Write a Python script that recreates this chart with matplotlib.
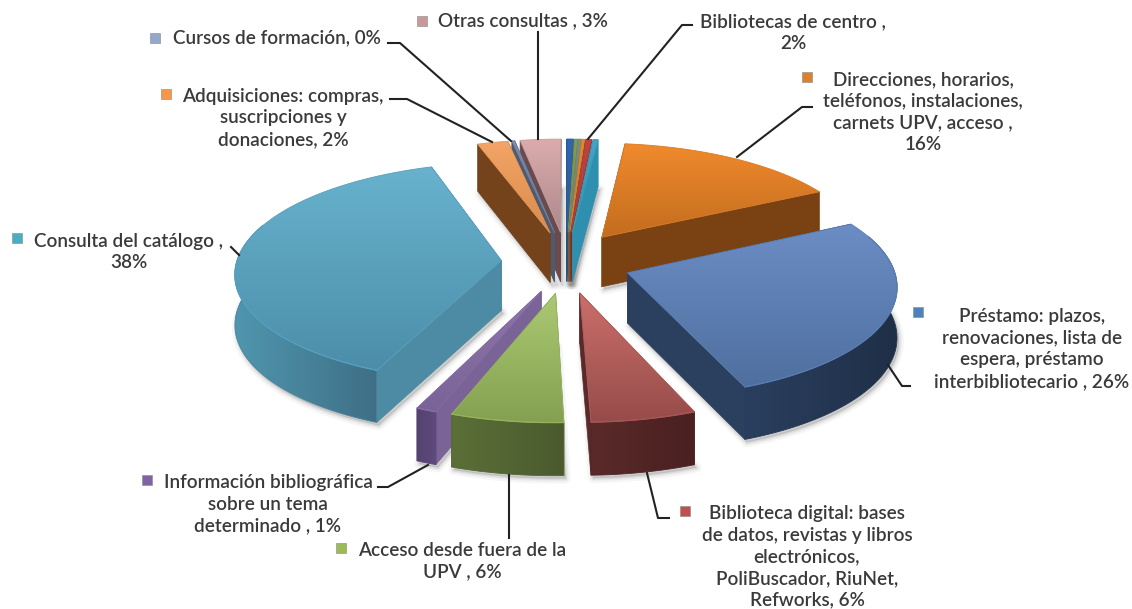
import numpy as np
import matplotlib
matplotlib.use("Agg")
import matplotlib.pyplot as plt
from matplotlib.patches import Polygon, Rectangle
from matplotlib.colors import to_rgb

# ---- data ----
categories = ["Bibliotecas (a)", "Bibliotecas (b)", "Bibliotecas (c)", "Bibliotecas (d)",
              "Bibliotecas de centro", "Bibliotecas (e)",
              "Direcciones", "Préstamo", "Biblioteca digital", "Acceso", "Información",
              "Consulta", "Adquisiciones", "Cursos", "Otras"]
values = [0.45, 0.2, 0.2, 0.2, 0.4, 0.35, 15.6, 26.5, 5.6, 6.0, 1.1, 38.3, 2.1, 0.2, 2.8]
draw_order = [0, 1, 2, 3, 4, 5, 14, 13, 12, 6, 11, 7, 10, 9, 8]
top_hi = ["#2f66ad", "#86a04a", "#7d8f86", "#dd8c33", "#bf4440", "#41a6c4", "#f08a2c", "#6b8dc4", "#cc6f6b",
          "#abc973", "#8f76ad", "#68b2cd", "#f3a466", "#7c8db0", "#dcacad"]
top_lo = ["#2a5a98", "#6f8a3e", "#6c7c74", "#c87c2a", "#a83a37", "#3590ab", "#c36d1f", "#4f6f9f", "#964c4a",
          "#84a051", "#7a6396", "#4c8eaa", "#d88c4c", "#66748f", "#ad898c"]
side_l = ["#234a7c", "#55682e", "#5b6a63", "#8a5620", "#7e2c2a", "#3493b2", "#7a4213", "#2a3f5f", "#5a2a2a",
          "#5b6f38", "#54426e", "#4f96ae", "#74421b", "#4a5568", "#7c5a5c"]
side_r = ["#234a7c", "#55682e", "#5b6a63", "#8a5620", "#7e2c2a", "#3493b2", "#7a4213", "#1f2f47", "#4a2020",
          "#4a5a2e", "#5f4b7c", "#3f6f86", "#74421b", "#4a5568", "#7c5a5c"]
face_col = ["#234a7c", "#55682e", "#5b6a63", "#8a5620", "#7e2c2a", "#2f8fae", "#7a4213", "#2b405f", "#5a2a2a",
            "#66803f", "#7a6396", "#4c8ba3", "#74421b", "#4d5a70", "#6b4a4e"]

label_text = [
    "Bibliotecas de centro ,\n2%",
    "Direcciones, horarios,\nteléfonos, instalaciones,\ncarnets UPV, acceso ,\n16%",
    "Préstamo: plazos,\nrenovaciones, lista de\nespera, préstamo\ninterbibliotecario , 26%",
    "Biblioteca digital: bases\nde datos, revistas y libros\nelectrónicos,\nPoliBuscador, RiuNet,\nRefworks, 6%",
    "Acceso desde fuera de la\nUPV , 6%",
    "Información bibliográfica\nsobre un tema\ndeterminado , 1%",
    "Consulta del catálogo ,\n38%",
    "Adquisiciones: compras,\nsuscripciones y\ndonaciones, 2%",
    "Cursos de formación, 0%",
    "Otras consultas , 3%",
]
label_xy = [(793, 33), (923, 112), (1032, 349), (807, 557), (462, 561), (268, 504), (129, 252), (283, 118), (277, 38), (523, 21)]
marker_xy = [None, (807, 77), (918, 312), (685, 511), (341, 548), (147, 480), (17, 238), (166, 94), (155, 38), (422, 21)]
marker_col = ["#9c3a36", "#d9822b", "#4f81bd", "#c0504d", "#9bbb59", "#8064a2", "#4bacc6", "#f79646", "#95a8cc", "#c9989a"]
leaders = [
    [(692, 25), (682, 25), (588, 139)],
    [(812, 107), (802, 107), (737, 157)],
    [(888, 365), (902, 386), (910, 386)],
    [(647, 473), (658, 518), (669, 518)],
    [(509, 475), (509, 538)],
    [(378, 487), (388, 487), (428, 465)],
    [(231, 247), (239, 255)],
    [(390, 99), (407, 99), (492, 142)],
    [(388, 43), (400, 43), (511, 141)],
    [(538, 32), (538, 139)],
]

# ---- projection of the pie plane ----
X0, Y0, KX, KY, P = 566.0, 262.0, 270.0, 113.3, 0.109
EXPL, EXPL_Y = 0.24, 1.13
RU, RV = 0.98, 0.96


def proj(u, v):
    w = 1 + P * v
    return X0 + KX * u / w, Y0 - KY * v / w


def depth(v):
    return 50 - 2.5 * v


def hex_grad(c0, c1, n=64):
    a, b = np.array(to_rgb(c0)), np.array(to_rgb(c1))
    t = np.linspace(0, 1, n)[:, None]
    return a + (b - a) * t


plt.rcParams["font.family"] = ["Lato", "DejaVu Sans"]
fig = plt.figure(figsize=(11.32, 6.09), dpi=100)
ax = fig.add_axes([0, 0, 1, 1])
ax.axis("off")

frac = np.array(values) / np.sum(values)
edges = np.concatenate([[0], np.cumsum(frac)]) * 2 * np.pi

slices = []
for i in range(len(values)):
    t1, t2 = edges[i], edges[i + 1]
    b = (t1 + t2) / 2
    ou, ov = EXPL * np.sin(b), EXPL * EXPL_Y * np.cos(b)
    th = np.linspace(t1, t2, max(4, int((t2 - t1) * 60)))
    au, av = ou + RU * np.sin(th), ov + RV * np.cos(th)
    ax_, ay_ = proj(au, av)
    tx, ty = proj(ou, ov)
    top = np.column_stack([np.r_[tx, ax_], np.r_[ty, ay_]])
    dtop = depth(np.r_[ov, av])
    bot = top + np.column_stack([np.zeros(len(top)), dtop])
    slices.append(dict(i=i, top=top, bot=bot, th=th, b=b, ov=ov))

z = 1.0
# soft shadows first
for s in slices:
    pts = s["bot"] + np.array([2, 3])
    for lw, al in [(7, 0.05), (4, 0.07), (2, 0.09)]:
        ax.add_patch(Polygon(pts, closed=True, fc="#555555", ec="#555555", lw=lw, alpha=al, zorder=z, joinstyle="round"))


def grad_poly(pts, c0, c1, zorder, vertical=True):
    x0, x1 = pts[:, 0].min(), pts[:, 0].max()
    y0, y1 = pts[:, 1].min(), pts[:, 1].max()
    g = hex_grad(c0, c1)
    img = g[:, None, :] if vertical else g[None, :, :]
    im = ax.imshow(img, extent=[x0, x1, y1, y0], aspect="auto", zorder=zorder, interpolation="bilinear")
    im.set_clip_path(Polygon(pts, closed=True, transform=ax.transData))
    mid = tuple((np.array(to_rgb(c0)) + np.array(to_rgb(c1))) / 2)
    ax.add_patch(Polygon(pts, closed=True, fc="none", ec=mid, lw=0.6, zorder=zorder + 0.001))


for k in draw_order:
    s = slices[k]
    i = s["i"]
    z += 1
    top, bot = s["top"], s["bot"]
    q1 = np.vstack([top[0], top[1], bot[1], bot[0]])
    q2 = np.vstack([top[0], top[-1], bot[-1], bot[0]])
    ax.add_patch(Polygon(q1, closed=True, fc=face_col[i], ec=face_col[i], lw=0.5, zorder=z))
    ax.add_patch(Polygon(q2, closed=True, fc=face_col[i], ec=face_col[i], lw=0.5, zorder=z + 0.1))
    mask = (s["th"] > np.pi / 2 - 0.35) & (s["th"] < 3 * np.pi / 2 + 0.35)
    if mask.sum() >= 2:
        arc_top = top[1:][mask]
        arc_bot = bot[1:][mask]
        poly = np.vstack([arc_top, arc_bot[::-1]])
        grad_poly(poly, side_l[i], side_r[i], z + 0.2, vertical=False)
    grad_poly(top, top_hi[i], top_lo[i], z + 0.3)
    if mask.sum() >= 2:
        light = tuple(min(1, c * 1.12) for c in to_rgb(top_lo[i]))
        ax.plot(top[1:][mask][:, 0], top[1:][mask][:, 1], color=light, lw=0.9, zorder=z + 0.4, solid_capstyle="round")

# leaders
for pts in leaders:
    xs, ys = zip(*pts)
    ax.plot(xs, ys, color="#222222", lw=1.5, zorder=500, solid_joinstyle="round")

# labels and legend keys
for txt, (x, y) in zip(label_text, label_xy):
    ax.text(x, y, txt, ha="center", va="center", fontsize=13.6, color="#3a3a3a", fontweight="semibold",
            linespacing=1.33, zorder=600)
for col, xy in zip(marker_col, marker_xy):
    if xy is None:
        continue
    x, y = xy
    ax.add_patch(Rectangle((x - 5, y - 5), 10, 10, fc=col, ec="#888888", lw=0.4, zorder=600))

ax.set_xlim(0, 1132)
ax.set_ylim(609, 0)
fig.savefig("out.png", dpi=100, facecolor="white")
